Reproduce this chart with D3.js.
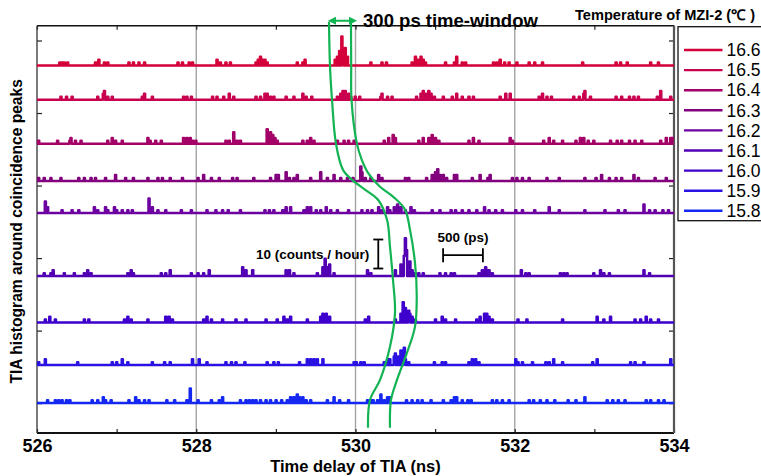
<!DOCTYPE html>
<html><head><meta charset="utf-8">
<script src="https://cdn.jsdelivr.net/npm/d3@7"></script>
<style>
html,body{margin:0;padding:0;background:#fff;}
svg{display:block;font-family:Arial,"Liberation Sans",sans-serif;}
</style></head>
<body><svg id="c" width="761" height="476"></svg>
<script>
// ---------------- data ----------------
const temperatures = ["16.6","16.5","16.4","16.3","16.2","16.1","16.0","15.9","15.8"];
const colors = ["#d4003a","#c8004e","#a30068","#82007e","#6c00a0","#5200b4","#3e00cc","#2a12e2","#1428f2"];
const offsets = [116.4, 104.6, 89.4, 76.6, 65.5, 43.8, 27.8, 13.1, 0];  // counts offset of each trace
const xTicks = [526, 528, 530, 532, 534];
const binWidth = 0.014; // ns

// nonzero histogram bins [time (ns), counts] per temperature
const h166 = [[526.28,1],[526.31,1],[526.34,1],[526.38,1],[526.73,1],[526.77,2],[526.84,1],[526.88,1],
 [527.15,1],[527.21,1],[527.28,1],[527.34,1],[527.76,1],[527.82,1],[527.90,1],[527.95,1],
 [528.25,2],[528.30,1],[528.37,1],[528.42,1],[528.74,1],[528.77,2],[528.80,3],[528.83,2],[528.86,2],[528.89,1],
 [529.26,1],[529.33,1],[529.36,2],[529.74,2],[529.77,3],[529.80,5],[529.82,10],[529.84,5],[529.87,6],[529.89,3],
 [530.18,1],[530.32,1],[530.38,1],[530.70,1],[530.75,3],[530.78,2],[530.81,3],[530.84,2],[530.87,1],
 [531.12,1],[531.23,1],[531.27,3],[531.33,1],[531.38,1],[531.72,1],[531.77,1],[531.81,2],[531.86,1],[531.92,1],
 [532.02,1],[532.17,1],[532.25,1],[532.34,1],[532.84,1],[533.26,1],[533.32,1],[533.41,1],[533.70,1],[533.80,1]];
const h165 = [[526.29,1],[526.36,1],[526.44,1],[526.75,1],[526.82,2],[526.84,3],[526.88,1],[526.94,1],
 [527.32,1],[527.35,2],[527.44,1],[527.83,1],[527.88,1],[527.93,1],[528.20,1],[528.26,1],[528.34,1],[528.41,2],[528.47,1],
 [528.74,1],[528.80,1],[528.86,2],[528.89,2],[528.93,1],[528.97,1],[529.12,1],[529.22,1],[529.33,2],[529.37,1],[529.45,1],
 [529.77,1],[529.81,2],[529.84,3],[529.87,3],[529.90,2],[529.93,1],[529.99,1],
 [530.04,1],[530.31,1],[530.33,2],[530.39,1],[530.45,1],[530.76,1],[530.81,2],[530.84,3],[530.87,2],[530.91,3],[530.94,2],[530.98,1],
 [531.10,1],[531.21,1],[531.27,2],[531.33,1],[531.42,1],[531.48,1],[531.81,1],[531.88,2],[531.94,2],
 [532.30,1],[532.34,2],[532.40,1],[532.46,1],[532.74,1],[532.80,1],[532.86,2],[532.88,3],[532.94,1],
 [533.26,1],[533.34,1],[533.43,1],[533.49,1],[533.55,1],[533.78,1],[533.82,3],[533.95,1]];
const h164 = [[526.02,1],[526.25,1],[526.40,1],[526.42,2],[526.48,1],[526.54,1],[526.88,1],[526.94,2],[526.98,1],[527.07,1],
 [527.38,2],[527.42,1],[527.49,1],[527.55,1],[527.84,2],[527.88,2],[527.92,2],[527.95,1],[527.99,1],
 [528.37,1],[528.41,1],[528.47,4],[528.50,1],[528.55,1],[528.89,5],[528.92,4],[528.95,3],[528.98,2],[529.01,1],
 [529.33,1],[529.39,1],[529.43,2],[529.47,1],[529.77,1],[529.85,1],[529.91,1],[529.98,1],
 [530.35,1],[530.41,2],[530.46,3],[530.50,2],[530.79,1],[530.85,2],[530.91,2],[530.96,3],[531.00,2],[531.04,1],
 [531.42,1],[531.48,2],[531.54,1],[531.94,2],[531.96,1],[532.36,1],[532.42,2],[532.48,1],[532.59,1],
 [532.76,1],[532.82,2],[532.86,2],[532.92,1],[532.99,1],[533.20,1],[533.28,1],[533.34,1],[533.43,1],[533.51,1],[533.59,1],
 [533.82,1],[533.89,2],[533.95,2],[533.99,2]];
const h163 = [[526.02,1],[526.08,1],[526.17,1],[526.29,1],[526.52,1],[526.59,1],[526.67,1],[526.73,1],[526.86,1],[526.98,2],
 [527.11,1],[527.21,1],[527.38,1],[527.51,1],[527.57,1],[527.67,1],[527.82,1],[528.01,1],[528.09,2],[528.18,1],[528.28,1],
 [528.45,1],[528.51,1],[528.72,1],[528.93,1],[528.99,2],[529.03,2],[529.12,3],[529.16,1],[529.22,1],[529.26,2],
 [529.43,1],[529.56,3],[529.64,1],[529.73,2],[529.81,1],[529.89,1],[529.96,1],
 [530.06,5],[530.08,3],[530.12,1],[530.18,1],[530.29,2],[530.33,1],[530.62,1],[530.66,1],
 [530.89,1],[530.96,2],[531.00,3],[531.03,4],[531.06,2],[531.10,2],[531.14,1],[531.23,2],[531.27,2],
 [531.46,1],[531.56,2],[531.65,1],[531.69,2],[531.96,1],[532.02,1],[532.09,1],[532.17,1],[532.40,1],[532.55,1],
 [532.88,1],[533.01,1],[533.09,2],[533.18,1],[533.26,1],[533.34,1],[533.49,2],[533.55,1],[533.76,1],[533.89,1]];
const h162 = [[526.10,4],[526.13,2],[526.31,1],[526.44,1],[526.52,1],[526.71,2],[526.75,1],[526.86,2],[526.88,1],[526.96,2],
 [527.00,1],[527.07,1],[527.13,1],[527.19,1],[527.40,5],[527.44,2],[527.51,1],[527.61,1],
 [527.80,1],[527.93,1],[528.13,1],[528.24,1],[528.32,1],[528.39,1],[528.55,1],
 [528.85,1],[528.91,1],[528.97,1],[529.08,1],[529.12,2],[529.18,2],[529.35,1],[529.39,2],[529.43,2],[529.50,1],[529.56,1],
 [529.62,2],[529.68,1],[529.77,1],[529.91,1],
 [530.08,1],[530.14,1],[530.20,1],[530.29,2],[530.33,1],[530.39,2],[530.43,1],[530.48,2],[530.52,3],[530.56,2],[530.62,1],[530.69,2],[530.73,1],
 [530.96,1],[531.06,1],[531.19,1],[531.25,1],[531.33,1],[531.42,1],[531.52,1],[531.61,2],[531.67,1],[531.75,1],[531.84,1],
 [532.00,1],[532.09,1],[532.25,1],[532.42,2],[532.55,1],[532.88,1],[533.13,1],[533.30,1],[533.38,1],
 [533.61,3],[533.68,1],[533.76,1],[533.85,1],[533.93,1]];
const h161 = [[526.08,1],[526.17,1],[526.19,2],[526.33,1],[526.46,1],[526.59,1],[526.63,2],[526.67,1],
 [527.13,1],[527.17,2],[527.21,1],[527.55,1],[527.61,1],[527.67,2],[527.93,1],[528.01,1],[528.09,1],[528.16,2],
 [528.57,3],[528.62,2],[528.70,2],[529.12,2],[529.16,2],[529.22,1],
 [529.52,1],[529.58,3],[529.61,6],[529.64,3],[529.67,4],[529.73,1],
 [530.14,2],[530.18,1],[530.50,2],[530.56,4],[530.60,7],[530.62,13],[530.64,9],[530.67,5],[530.70,2],[530.75,1],[530.79,1],[530.85,1],
 [531.06,1],[531.12,1],[531.19,1],[531.23,1],[531.54,1],[531.58,2],[531.63,3],[531.67,2],[531.71,1],
 [532.07,2],[532.13,1],[532.17,1],[532.57,1],[532.61,1],[532.65,1],[532.99,1],[533.07,2],[533.11,1],[533.18,1],
 [533.62,2],[533.68,1]];
const h160 = [[526.10,1],[526.15,2],[526.23,1],[526.59,1],[526.65,1],[527.09,1],[527.13,2],[527.17,1],[527.38,1],
 [527.61,2],[527.65,2],[527.70,1],[528.09,1],[528.13,2],[528.18,1],[528.32,1],[528.49,1],[528.62,1],
 [528.87,1],[529.01,1],[529.10,2],[529.14,1],[529.18,2],[529.39,1],[529.56,2],[529.59,3],[529.63,3],[529.67,2],
 [530.12,1],[530.16,2],[530.50,1],[530.56,3],[530.59,7],[530.62,5],[530.66,4],[530.68,3],[530.71,2],[530.75,1],
 [531.00,1],[531.08,2],[531.12,1],[531.25,1],[531.52,1],[531.56,2],[531.61,3],[531.64,3],[531.67,2],[531.71,1],
 [532.04,1],[532.15,1],[532.59,1],[533.03,2],[533.11,1],[533.20,2],[533.51,1],[533.57,1],[533.64,2],[533.70,1],[533.80,1]];
const h159 = [[526.02,1],[526.10,2],[526.50,1],[526.94,1],[527.00,1],[527.07,2],[527.13,1],[527.44,1],[527.59,1],[527.67,1],
 [527.95,2],[528.03,2],[528.13,1],[528.37,1],[528.43,1],[528.49,1],[528.60,1],[528.89,1],[528.97,1],[529.03,1],[529.29,1],
 [529.39,2],[529.43,2],[529.47,2],[529.52,2],[529.58,2],[529.98,1],
 [530.01,1],[530.06,1],[530.10,1],[530.35,1],[530.39,2],[530.43,2],[530.48,3],[530.50,4],[530.54,3],[530.57,5],[530.60,6],[530.62,2],[530.66,1],
 [530.98,1],[531.08,1],[531.12,1],[531.42,1],[531.46,2],[531.50,2],[531.54,1],[532.00,2],[532.04,1],[532.09,1],
 [532.21,1],[532.38,1],[532.42,1],[532.48,2],[532.59,1],[532.97,1],[533.03,2],[533.45,1],[533.51,1],[533.62,1],[533.95,2]];
const h158 = [[526.13,1],[526.23,1],[526.27,1],[526.31,1],[526.36,1],[526.40,1],[526.69,1],[526.75,1],[526.82,2],[526.86,1],[526.92,1],
 [527.15,1],[527.23,2],[527.28,1],[527.34,1],[527.40,1],[527.63,1],[527.72,1],[527.88,1],[527.92,5],
 [528.01,1],[528.18,1],[528.28,1],[528.32,2],[528.55,1],[528.62,1],[528.66,1],[528.70,1],[528.74,1],[528.80,1],[528.87,1],
 [528.93,1],[528.99,1],[529.06,1],[529.14,1],[529.18,2],[529.22,2],[529.26,3],[529.29,2],[529.33,2],[529.37,1],[529.43,1],
 [529.64,1],[529.73,2],[529.79,1],[529.91,1],
 [530.14,1],[530.18,1],[530.22,1],[530.27,1],[530.31,3],[530.35,1],[530.39,2],[530.43,2],[530.64,1],[530.71,1],[530.77,1],[530.83,1],[530.94,1],
 [531.10,1],[531.19,1],[531.23,2],[531.27,2],[531.33,1],[531.40,1],[531.44,1],[531.71,1],[531.77,1],[531.84,1],[531.92,1],
 [532.17,1],[532.23,1],[532.32,1],[532.40,1],[532.50,1],[532.67,1],[532.76,1],[532.88,2],
 [533.15,1],[533.22,1],[533.30,1],[533.38,1],[533.64,1],[533.70,1],[533.80,1],[533.87,1]];
const histograms = [h166,h165,h164,h163,h162,h161,h160,h159,h158];

// 300 ps time-window boundaries [time (ns), counts-axis level]
const windowLeft = [[529.667,131.5],[529.68,116],[529.705,104.6],[529.755,89.4],[529.843,80.4],[529.969,76.7],
 [530.119,73.6],[530.283,70.1],[530.396,63.2],[530.433,53.9],[530.471,42.5],[530.496,31.1],[530.433,19.4],
 [530.308,8.0],[530.182,1.1],[530.157,-8.5]];
const windowRight = [[529.943,131.5],[529.946,116],[529.950,104.6],[530.015,89.8],[530.078,83.9],[530.157,79.4],
 [530.308,74.6],[530.471,71.2],[530.622,66.7],[530.684,59.8],[530.747,48.4],[530.769,36.7],[530.747,26.3],
 [530.647,17.4],[530.521,8.0],[530.446,1.1],[530.433,-8.5]];
const arrowSpan = [529.655, 530.02];   // ns
const arrowLevel = 131.8;             // counts axis
const countBar = {t: 530.286, from: 46.4, to: 56.4};   // 10 counts / hour
const timeBar = {from: 531.10, to: 531.60, level: 51}; // 500 ps

// ---------------- chart ----------------
const svg = d3.select("#c");
const L = 37, R = 674, T = 25.7, B = 433;
const x = d3.scaleLinear().domain([526, 534]).range([L, R]);
const y = d3.scaleLinear().domain([-10.3, 130.1]).range([B, T]);
const green = "#12b352";

// gridlines
svg.append("g").selectAll("line").data([528, 530, 532]).join("line")
  .attr("x1", d => x(d)).attr("x2", d => x(d)).attr("y1", T).attr("y2", B)
  .attr("stroke", "#a4a4a4").attr("stroke-width", 1.4);

// axes (ticks inward)
const xb = svg.append("g").attr("transform", `translate(0,${B})`)
  .call(d3.axisBottom(x).tickValues(d3.range(526, 535, 1)).tickSize(-4).tickFormat(d => xTicks.includes(d) ? d : ""));
xb.selectAll("text").attr("y", 18.5).attr("dy", null).attr("font-size", 18).attr("font-weight", "bold").attr("fill", "#000").attr("font-family", "Arial, Liberation Sans, sans-serif");
const xt = svg.append("g").attr("transform", `translate(0,${T})`)
  .call(d3.axisTop(x).tickValues(d3.range(526, 535, 1)).tickSize(-4).tickFormat(""));
const yl = svg.append("g").attr("transform", `translate(${L},0)`)
  .call(d3.axisLeft(y).tickValues([0, 25, 50, 75, 100, 125]).tickSize(-5).tickFormat(""));
const yr = svg.append("g").attr("transform", `translate(${R},0)`)
  .call(d3.axisRight(y).tickValues([0, 25, 50, 75, 100, 125]).tickSize(-5).tickFormat(""));
[xb, xt, yl, yr].forEach(g => { g.select(".domain").remove(); g.selectAll("line").attr("stroke", "#222").attr("stroke-width", 1.2); });

// frame
svg.append("line").attr("x1", L).attr("x2", R).attr("y1", T).attr("y2", T).attr("stroke", "#111").attr("stroke-width", 1.5);
svg.append("line").attr("x1", L).attr("x2", R).attr("y1", B).attr("y2", B).attr("stroke", "#111").attr("stroke-width", 2);
svg.append("line").attr("x1", L).attr("x2", L).attr("y1", T).attr("y2", B).attr("stroke", "#333").attr("stroke-width", 1.3);
svg.append("line").attr("x1", R).attr("x2", R).attr("y1", T).attr("y2", B).attr("stroke", "#555").attr("stroke-width", 2.2);

// histogram traces
const nBins = Math.round((534 - 526) / binWidth);
const line = d3.line().x(d => x(d[0])).y(d => y(d[1])).curve(d3.curveStepAfter);
histograms.forEach((hist, i) => {
  const counts = new Array(nBins).fill(0);
  hist.forEach(([t, c]) => {
    const k = Math.min(nBins - 1, Math.max(0, Math.round((t - 526) / binWidth)));
    counts[k] = Math.max(counts[k], c);
  });
  const pts = counts.map((c, k) => [526 + k * binWidth, offsets[i] + c]);
  pts.push([534, offsets[i] + counts[nBins - 1]]);
  svg.append("path").datum(pts).attr("d", line)
    .attr("fill", "none").attr("stroke", colors[i]).attr("stroke-width", 2.5).attr("stroke-linejoin", "round");
});

// time-window curves
const wline = d3.line().x(d => x(d[0])).y(d => y(d[1])).curve(d3.curveCatmullRom.alpha(0.5));
[windowLeft, windowRight].forEach(w => {
  svg.append("path").datum(w).attr("d", wline).attr("fill", "none").attr("stroke", green).attr("stroke-width", 2.2);
});

// double arrow
const ay = y(arrowLevel), ax1 = x(arrowSpan[0]), ax2 = x(arrowSpan[1]);
svg.append("line").attr("x1", ax1 + 5).attr("x2", ax2 - 5).attr("y1", ay).attr("y2", ay).attr("stroke", green).attr("stroke-width", 2);
svg.append("path").attr("d", `M${ax1},${ay} L${ax1 + 8},${ay - 4} L${ax1 + 8},${ay + 4} Z`).attr("fill", green);
svg.append("path").attr("d", `M${ax2},${ay} L${ax2 - 8},${ay - 4} L${ax2 - 8},${ay + 4} Z`).attr("fill", green);
svg.append("text").attr("x", ax2 + 6).attr("y", ay + 1).attr("dominant-baseline", "middle")
  .attr("font-size", 18.5).attr("font-weight", "bold").text("300 ps time-window");

// scale bars
const cbX = x(countBar.t);
svg.append("line").attr("x1", cbX).attr("x2", cbX).attr("y1", y(countBar.from)).attr("y2", y(countBar.to)).attr("stroke", "#000").attr("stroke-width", 1.8);
[countBar.from, countBar.to].forEach(v => svg.append("line").attr("x1", cbX - 5).attr("x2", cbX + 5).attr("y1", y(v)).attr("y2", y(v)).attr("stroke", "#000").attr("stroke-width", 1.8));
svg.append("text").attr("x", cbX - 9).attr("y", y((countBar.from + countBar.to) / 2) + 4.5).attr("text-anchor", "end")
  .attr("font-size", 13.5).attr("font-weight", "bold").text("10 (counts / hour)");
const tbY = y(timeBar.level);
svg.append("line").attr("x1", x(timeBar.from)).attr("x2", x(timeBar.to)).attr("y1", tbY).attr("y2", tbY).attr("stroke", "#000").attr("stroke-width", 1.8);
[timeBar.from, timeBar.to].forEach(v => svg.append("line").attr("x1", x(v)).attr("x2", x(v)).attr("y1", tbY - 7).attr("y2", tbY + 7).attr("stroke", "#000").attr("stroke-width", 1.8));
svg.append("text").attr("x", (x(timeBar.from) + x(timeBar.to)) / 2).attr("y", tbY - 13).attr("text-anchor", "middle")
  .attr("font-size", 13.5).attr("font-weight", "bold").text("500 (ps)");

// axis labels
svg.append("text").attr("x", (L + R) / 2).attr("y", 472).attr("text-anchor", "middle")
  .attr("font-size", 16.5).attr("font-weight", "bold").text("Time delay of TIA (ns)");
svg.append("text").attr("transform", `translate(22,${(T + B) / 2 + 2}) rotate(-90)`).attr("text-anchor", "middle")
  .attr("font-size", 15.6).attr("font-weight", "bold").text("TIA histogram around coincidence peaks");

// legend
svg.append("text").attr("x", 575).attr("y", 20).attr("font-size", 14.6).attr("font-weight", "bold").text("Temperature of MZI-2 (℃ )");
const lg = svg.append("g");
lg.append("rect").attr("x", 678).attr("y", 26.7).attr("width", 90).attr("height", 194).attr("fill", "#fff").attr("stroke", "#111").attr("stroke-width", 1.3);
temperatures.forEach((t, i) => {
  const ly = 50 + i * 20.1;
  lg.append("line").attr("x1", 684).attr("x2", 722.5).attr("y1", ly).attr("y2", ly).attr("stroke", colors[i]).attr("stroke-width", 2.4);
  lg.append("text").attr("x", 726.5).attr("y", ly + 6.2).attr("font-size", 17.5).text(t);
});
</script></body></html>
